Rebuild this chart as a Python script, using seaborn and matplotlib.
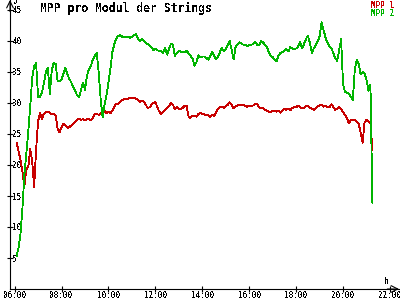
import matplotlib
matplotlib.use("Agg")
import matplotlib.pyplot as plt
import seaborn as sns
import pandas as pd
import numpy as np

# --- data (5-minute samples starting 06:05) ---
series_names = ["MPP 1", "MPP 2"]
start_time = "2024-06-01 06:05"
sample_freq = "5min"

mpp1 = [23.6, 22.3, 20.8, 19.0, 16.5, 19.3, 19.7, 22.6, 20.5, 16.5,
        22.5, 27.0, 28.4, 27.4, 28.3, 28.5, 28.6, 28.4, 28.2, 28.2,
        28.0, 25.8, 25.3, 26.1, 26.7, 26.4, 26.0, 26.1, 26.4, 26.7,
        27.0, 27.3, 27.5, 27.3, 27.4, 27.2, 27.4, 27.4, 27.2, 27.6,
        28.2, 28.2, 28.1, 28.3, 28.8, 28.7, 28.4, 28.6, 28.3, 28.8,
        29.4, 29.9, 29.9, 30.2, 30.5, 30.6, 30.6, 30.7, 30.8, 30.8,
        30.8, 30.7, 30.5, 30.2, 30.4, 30.2, 29.8, 29.2, 29.3, 29.7,
        30.0, 30.2, 29.3, 28.6, 28.2, 28.6, 28.9, 29.2, 29.5, 30.0,
        29.7, 29.0, 29.4, 29.1, 29.0, 29.2, 29.6, 29.5, 27.8, 27.6,
        28.0, 27.9, 27.8, 28.2, 28.4, 28.2, 28.2, 28.0, 28.1, 27.8,
        28.1, 27.9, 28.5, 29.0, 29.3, 29.4, 29.2, 29.5, 29.7, 30.1,
        29.8, 29.1, 29.5, 29.6, 29.7, 29.7, 29.7, 29.5, 29.4, 29.6,
        29.5, 29.6, 29.8, 29.9, 29.3, 29.2, 29.2, 28.9, 28.8, 28.6,
        28.6, 28.7, 28.7, 28.6, 28.8, 28.4, 28.8, 29.1, 28.9, 29.1,
        28.8, 29.2, 29.3, 29.3, 29.6, 29.4, 29.1, 29.2, 29.5, 29.5,
        29.2, 29.1, 28.9, 29.2, 29.5, 29.6, 29.7, 29.4, 29.6, 29.3,
        29.3, 29.8, 29.4, 28.9, 29.1, 29.3, 29.0, 28.5, 28.1, 27.5,
        26.7, 27.2, 27.3, 27.2, 27.0, 26.6, 25.2, 23.6, 26.9, 27.3,
        27.0, 26.8, 22.4]

mpp2 = [5.3, 6.6, 8.8, 13.0, 18.5, 21.8, 25.5, 29.5, 34.0, 36.0,
        36.4, 31.0, 31.0, 31.7, 33.2, 35.0, 35.6, 31.5, 35.3, 36.5,
        36.3, 33.5, 33.5, 33.8, 34.8, 35.7, 34.6, 33.9, 33.3, 32.6,
        32.0, 31.2, 30.9, 32.2, 33.3, 32.1, 34.4, 35.5, 35.9, 37.0,
        37.6, 38.1, 35.0, 30.7, 27.7, 29.8, 31.2, 33.3, 35.5, 38.2,
        39.5, 40.4, 40.8, 41.0, 40.7, 40.7, 40.7, 40.7, 40.5, 40.7,
        40.9, 41.1, 40.5, 40.0, 40.3, 40.1, 39.8, 39.5, 39.3, 39.0,
        38.5, 38.8, 38.5, 38.4, 38.4, 38.1, 38.9, 37.8, 38.7, 39.6,
        39.3, 37.6, 38.1, 38.4, 38.3, 38.2, 38.2, 38.4, 38.0, 37.6,
        37.2, 36.0, 36.6, 37.7, 37.4, 37.5, 37.5, 37.3, 37.0, 37.5,
        38.3, 37.7, 37.1, 37.4, 38.2, 38.9, 38.3, 38.7, 39.4, 40.0,
        38.6, 37.0, 39.0, 39.5, 39.8, 39.6, 39.4, 39.4, 39.1, 39.3,
        39.4, 39.5, 39.9, 39.4, 39.3, 40.0, 39.8, 39.4, 39.1, 38.2,
        37.6, 37.4, 37.0, 36.7, 37.7, 38.1, 38.2, 38.4, 38.7, 38.3,
        39.0, 38.8, 38.7, 38.8, 39.1, 39.8, 38.8, 39.5, 40.3, 40.9,
        39.7, 38.1, 38.8, 39.3, 39.9, 40.8, 43.0, 41.8, 40.6, 39.7,
        39.2, 38.8, 38.1, 37.2, 36.8, 38.5, 40.3, 33.0, 31.8, 31.6,
        31.5, 31.0, 30.5, 35.5, 36.9, 36.3, 34.6, 35.0, 34.8, 33.7,
        32.0, 33.0, 13.9]

x_ticks = [6, 8, 10, 12, 14, 16, 18, 20, 22]
x_tick_labels = ["06:00", "08:00", "10:00", "12:00", "14:00", "16:00", "18:00", "20:00", "22:00"]
y_ticks = [5, 10, 15, 20, 25, 30, 35, 40, 45]
title = "MPP pro Modul der Strings"

RED = "#c80000"
GREEN = "#00b400"

# --- build long table ---
def to_hours(n):
    t = pd.date_range(start_time, periods=n, freq=sample_freq)
    return (t.hour + t.minute / 60.0).to_numpy()

h1 = to_hours(len(mpp1))
h2 = to_hours(len(mpp2))
df = pd.DataFrame({
    "t": np.concatenate([h1, h2]),
    "U": mpp1 + mpp2,
    "s": [series_names[0]] * len(mpp1) + [series_names[1]] * len(mpp2),
})

sns.set_theme(style="white")
plt.rcParams["font.family"] = ["DejaVu Sans Mono"]
plt.rcParams["text.antialiased"] = False

fig = plt.figure(figsize=(4, 3), dpi=100)
fig.patch.set_facecolor("white")
ax = fig.add_axes([10 / 400, 11 / 300, 389 / 400, 289 / 300])
ax.set_facecolor("white")

sns.lineplot(data=df, x="t", y="U", hue="s", hue_order=series_names,
             palette={series_names[0]: RED, series_names[1]: GREEN},
             linewidth=0.6, legend=False, ax=ax, antialiased=False, estimator=None)

ax.set_xlim(6 - 4.6 / 23.45, 22 + 9 / 23.45)
ax.set_ylim(0, 289 / 6.2)

for s in ["top", "right"]:
    ax.spines[s].set_visible(False)
for s in ["left", "bottom"]:
    ax.spines[s].set_color("black")
    ax.spines[s].set_linewidth(0.8)

ax.set_xticks(x_ticks)
ax.set_xticklabels(x_tick_labels)
ax.set_yticks(y_ticks)
ax.set_yticklabels([str(v) for v in y_ticks])
ax.tick_params(axis="both", direction="inout", length=4.5, width=0.8, colors="black",
               labelsize=5.5, bottom=True, left=True)
ax.tick_params(axis="x", pad=-0.6)
ax.tick_params(axis="y", pad=-4.0)
for lab in ax.get_yticklabels():
    lab.set_horizontalalignment("left")
ax.set_xlabel("")
ax.set_ylabel("")
ax.grid(False)

# axis arrows
ax.annotate("", xy=(0, 1.0), xytext=(0, 0.96), xycoords="axes fraction",
            arrowprops=dict(arrowstyle="->", lw=0.8, color="black", shrinkA=0, shrinkB=0))
ax.annotate("", xy=(1.0, 0), xytext=(0.97, 0), xycoords="axes fraction",
            arrowprops=dict(arrowstyle="->", lw=0.8, color="black", shrinkA=0, shrinkB=0))

fig.text(40 / 400, 1 - 8 / 300, title, fontsize=8.3, fontweight="bold",
         ha="left", va="center", color="black")
fig.text(13.5 / 400, 1 - 2.5 / 300, "U", fontsize=5, ha="left", va="center", color="black")
fig.text(387 / 400, 1 - 281 / 300, "h", fontsize=5.6, ha="center", va="center", color="black")
fig.text(394 / 400, 1 - 5 / 300, series_names[0], fontsize=5.6, ha="right", va="center", color=RED)
fig.text(394 / 400, 1 - 13 / 300, series_names[1], fontsize=5.6, ha="right", va="center", color=GREEN)

fig.savefig("out.png", dpi=100, facecolor="white")
